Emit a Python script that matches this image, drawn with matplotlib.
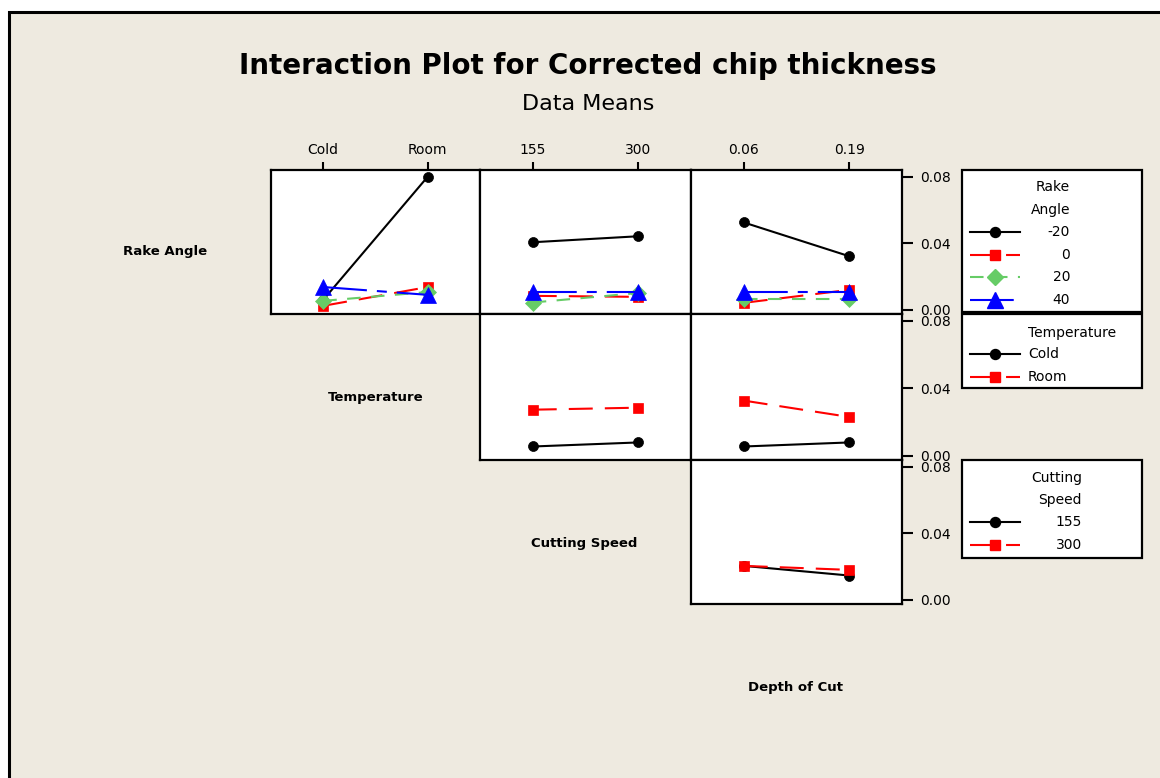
import numpy as np
import matplotlib
matplotlib.use("Agg")
import matplotlib.pyplot as plt
from matplotlib.patches import Rectangle

W, H = 1160, 778

# factor levels
rake_levels = ["-20", "0", "20", "40"]
temp_levels = ["Cold", "Room"]
speed_levels = ["155", "300"]
depth_levels = ["0.06", "0.19"]

# mean corrected chip thickness, one row per level of the trace factor
rake_by_temp = [[0.0060, 0.0800], [0.0024, 0.0137], [0.0054, 0.0107], [0.0137, 0.0090]]
rake_by_speed = [[0.0406, 0.0442], [0.0084, 0.0078], [0.0044, 0.0101], [0.0107, 0.0107]]
rake_by_depth = [[0.0525, 0.0322], [0.0042, 0.0120], [0.0066, 0.0066], [0.0107, 0.0107]]
temp_by_speed = [[0.0055, 0.0079], [0.0273, 0.0285]]
temp_by_depth = [[0.0055, 0.0079], [0.0327, 0.0230]]
speed_by_depth = [[0.0204, 0.0146], [0.0204, 0.0180]]

y_ticks = [0.00, 0.04, 0.08]

title = "Interaction Plot for Corrected chip thickness"
subtitle = "Data Means"
factor_names = ["Rake Angle", "Temperature", "Cutting Speed", "Depth of Cut"]

LW = 1.5
styles = [
    dict(color="black", marker="o", ms=7.2, ls="-"),
    dict(color="#FF0000", marker="s", ms=7.6, ls=(0, (11.5, 5.8))),
    dict(color="#66CC66", marker="D", ms=8.3, ls=(0, (6.5, 5.0))),
    dict(color="#0000FF", marker="^", ms=11.5, ls=(0, (21, 4.8, 4.8, 4.8))),
]

BG = "#EEEAE0"

fig = plt.figure(figsize=(W / 100, H / 100), dpi=100)
fig.patch.set_facecolor("white")
fig.add_artist(Rectangle((9 / W, -0.02), 1.05, 1 - 12 / H + 0.02,
                         transform=fig.transFigure, facecolor=BG,
                         edgecolor="black", lw=2.2, zorder=-5))


def px_rect(x0, y0, x1, y1):
    return [x0 / W, 1 - y1 / H, (x1 - x0) / W, (y1 - y0) / H]


cols = [(271, 480), (480, 691), (691, 902)]
rows = [(170, 314), (314, 460), (460, 604)]
col_levels = [temp_levels, speed_levels, depth_levels]

panels = {
    (0, 0): rake_by_temp,
    (0, 1): rake_by_speed,
    (0, 2): rake_by_depth,
    (1, 1): temp_by_speed,
    (1, 2): temp_by_depth,
    (2, 2): speed_by_depth,
}

for (r, c), series in panels.items():
    x0, x1 = cols[c]
    y0, y1 = rows[r]
    ax = fig.add_axes(px_rect(x0, y0, x1, y1))
    ax.set_facecolor("white")
    levels = col_levels[c]
    xs = np.arange(len(levels))
    for i, vals in enumerate(series):
        st = styles[i]
        ax.plot(xs, vals, color=st["color"], marker=st["marker"], ms=st["ms"],
                ls=st["ls"], lw=LW, mec=st["color"], mew=0.5, zorder=3 + i)
    ax.set_xlim(-0.5, len(levels) - 0.5)
    ax.set_ylim(-0.0025, 0.0840)
    for sp in ax.spines.values():
        sp.set_linewidth(1.6)
    if r == 0:
        ax.set_xticks(xs)
        ax.set_xticklabels(levels)
        ax.tick_params(axis="x", top=True, bottom=False, labeltop=True,
                       labelbottom=False, length=6, width=1.5, pad=3,
                       labelsize=10, direction="out")
    else:
        ax.set_xticks([])
    if c == 2:
        ax.yaxis.tick_right()
        ax.set_yticks(y_ticks)
        ax.set_yticklabels([f"{v:.2f}" for v in y_ticks])
        ax.tick_params(axis="y", right=True, left=False, length=8, width=1.5,
                       pad=5, labelsize=10, direction="out")
    else:
        ax.set_yticks([])

# factor names along the diagonal
name_pos = [(165, 252), (376, 397), (584, 544), (795, 688)]
for name, (px, py) in zip(factor_names, name_pos):
    fig.text(px / W, 1 - py / H, name, ha="center", va="center",
             fontsize=9.5, fontweight="bold")

fig.text(588 / W, 1 - 66 / H, title, ha="center", va="center",
         fontsize=20, fontweight="bold")
fig.text(588 / W, 1 - 104 / H, subtitle, ha="center", va="center", fontsize=16)

# legends drawn in pixel space
lg = fig.add_axes([0, 0, 1, 1])
lg.set_xlim(0, W)
lg.set_ylim(H, 0)
lg.axis("off")


def legend_box(y0, y1, heads, labels, text_x, ha, head_ys, row_ys):
    lg.add_patch(Rectangle((962, y0), 180, y1 - y0, facecolor="white",
                           edgecolor="black", lw=1.6, zorder=1))
    for t, ty in zip(heads, head_ys):
        lg.text(text_x, ty, t, ha=ha, va="center", fontsize=10, zorder=3)
    for i, (lab, ty) in enumerate(zip(labels, row_ys)):
        st = styles[i]
        lg.plot([970, 995, 1020], [ty, ty, ty], color=st["color"],
                marker=st["marker"], ms=st["ms"], ls=st["ls"], lw=LW,
                mec=st["color"], markevery=[1], zorder=2)
        lg.text(text_x, ty, lab, ha=ha, va="center", fontsize=10, zorder=3)


legend_box(170, 312, ["Rake", "Angle"], rake_levels, 1070, "right",
           [187, 210], [232, 255, 277, 300])
legend_box(314, 388, ["Temperature"], temp_levels, 1028, "left",
           [333], [354, 377])
legend_box(460, 558, ["Cutting", "Speed"], speed_levels, 1082, "right",
           [478, 500], [522, 545])

fig.savefig("out.png", dpi=100, facecolor=fig.get_facecolor())
